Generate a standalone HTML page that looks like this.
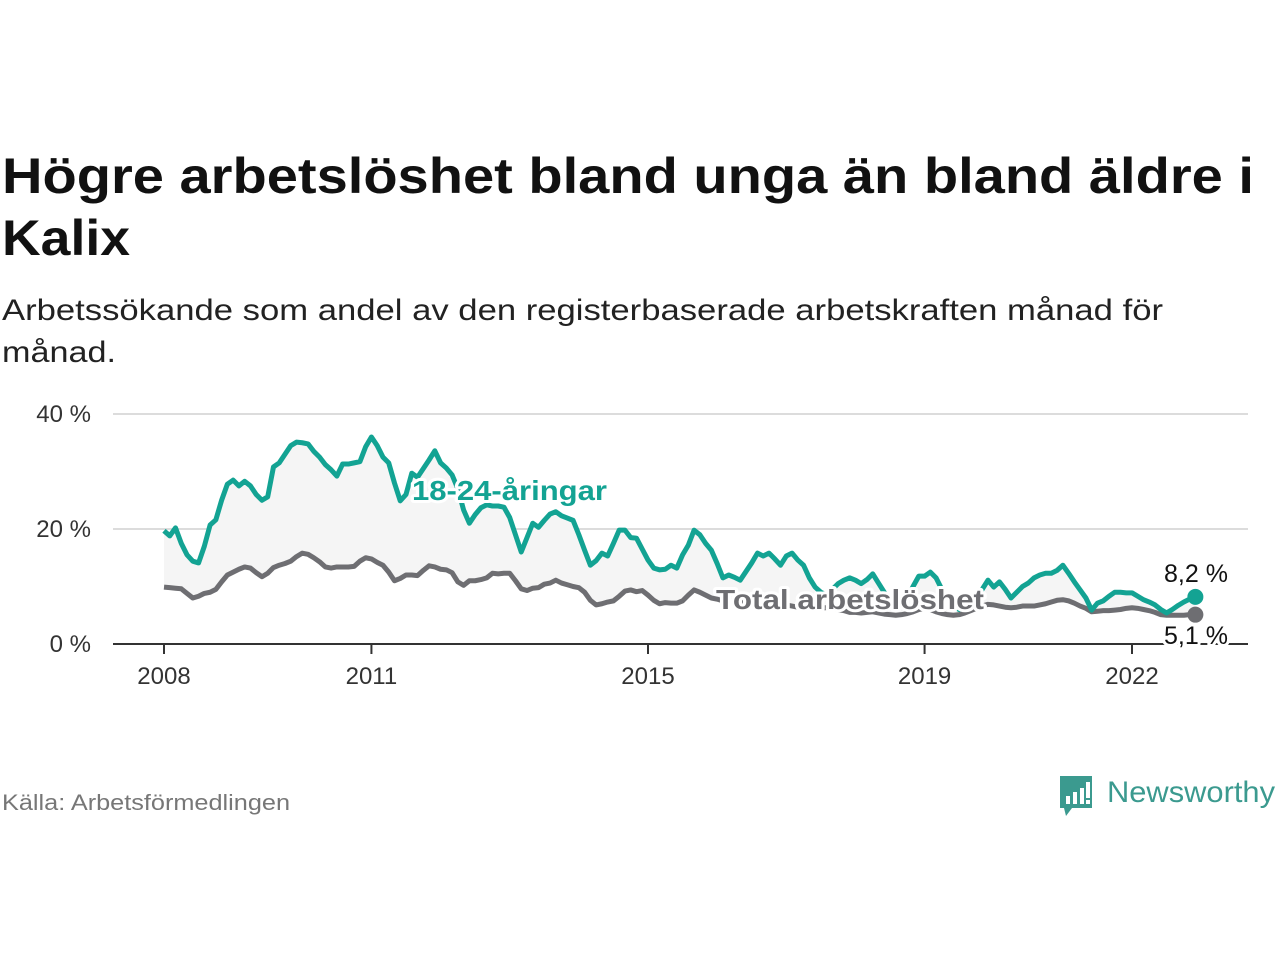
<!DOCTYPE html>
<html><head><meta charset="utf-8"><style>
body{margin:0;background:#fff;width:1280px;height:960px;overflow:hidden;font-family:"Liberation Sans","DejaVu Sans",sans-serif}
svg text{font-family:"Liberation Sans","DejaVu Sans",sans-serif}
</style></head><body>
<svg id="chart" width="1280" height="960" viewBox="0 0 1280 960">
<text x="2" y="193" font-size="50" font-weight="bold" fill="#111" textLength="1252" lengthAdjust="spacingAndGlyphs">Högre arbetslöshet bland unga än bland äldre i</text>
<text x="2" y="255" font-size="50" font-weight="bold" fill="#111" textLength="128" lengthAdjust="spacingAndGlyphs">Kalix</text>
<text x="2" y="320" font-size="30" fill="#222" textLength="1161" lengthAdjust="spacingAndGlyphs">Arbetssökande som andel av den registerbaserade arbetskraften månad för</text>
<text x="2" y="362" font-size="30" fill="#222" textLength="114" lengthAdjust="spacingAndGlyphs">månad.</text>
<g id="grid"></g>
<g id="plot"></g>
<text x="2" y="810" font-size="22" fill="#777" textLength="288" lengthAdjust="spacingAndGlyphs">Källa: Arbetsförmedlingen</text>
<g>
<path d="M1060 776 h32 v32 h-20 l-6 8 l-2 -8 h-4 z" fill="#3b9a8f"/>
<rect x="1066" y="796" width="4" height="8" fill="#fff"/><rect x="1073" y="792" width="4" height="12" fill="#fff"/><rect x="1080" y="788" width="4" height="16" fill="#fff"/><rect x="1086" y="782" width="4" height="16" fill="#fff"/><rect x="1086" y="800" width="4" height="4" fill="#fff"/>
<text x="1107" y="802" font-size="30" fill="#3b9a8f" textLength="168" lengthAdjust="spacingAndGlyphs">Newsworthy</text>
</g>
</svg>
<script>
const years=[2008,2011,2015,2019,2022];
const yTicks=[0,20,40];
const yTickLabels=["0 %","20 %","40 %"];
const youth=[19.7,18.8,20.2,17.5,15.5,14.4,14.1,17,20.7,21.6,25,27.8,
28.5,27.5,28.3,27.5,26,25,25.6,30.8,31.5,33,34.5,35.1,
35,34.8,33.5,32.5,31.2,30.3,29.2,31.3,31.3,31.5,31.7,34.3,
36,34.5,32.5,31.5,28,24.9,26,29.7,29,30.5,32,33.6,
31.5,30.6,29.4,27,23.3,21,22.5,23.7,24.2,24,24,23.8,
22,19,16,18.5,21,20.3,21.5,22.6,23,22.3,21.9,21.5,
19,16.3,13.7,14.5,15.8,15.3,17.5,19.8,19.8,18.5,18.4,16.5,
14.6,13.2,12.9,13,13.7,13.2,15.5,17.2,19.8,19,17.5,16.3,
14,11.5,12,11.6,11.1,12.6,14.1,15.8,15.3,15.8,14.8,13.7,
15.3,15.8,14.6,13.7,11.5,9.9,9,8.5,9.5,10.5,11.1,11.5,
11.1,10.5,11.2,12.2,10.6,9,7.5,6.5,6.8,8,10,11.8,
11.8,12.5,11.5,9.5,7.5,6.5,6,6.5,7.5,8.5,9.5,11.1,
9.9,10.8,9.5,8,9,10,10.6,11.5,12,12.3,12.3,12.8,
13.7,12.3,10.8,9.4,8,5.9,7.1,7.5,8.3,9,9,8.9,
8.9,8.3,7.7,7.3,6.8,6,5.4,6,6.7,7.3,7.8,8.2];
const total=[9.9,9.8,9.7,9.6,8.8,8,8.3,8.8,9,9.5,10.8,12,
12.5,13,13.4,13.2,12.4,11.7,12.3,13.3,13.7,14,14.4,15.2,
15.8,15.6,15,14.3,13.4,13.2,13.4,13.4,13.4,13.5,14.4,15,
14.8,14.2,13.7,12.5,11,11.4,12,12,11.9,12.8,13.6,13.4,
13,12.9,12.4,10.8,10.2,11,11,11.2,11.5,12.3,12.2,12.3,
12.3,11,9.6,9.3,9.7,9.8,10.4,10.6,11.1,10.6,10.3,10,
9.8,9,7.6,6.8,7,7.3,7.5,8.3,9.2,9.4,9.1,9.3,
8.5,7.6,7,7.2,7.1,7.1,7.5,8.5,9.4,9,8.5,8,
7.8,7.5,7.5,7.4,7.3,7.3,7.6,7.8,7.6,7.4,7.2,7,
6.8,6.6,6.4,6.3,6.2,6.2,6.3,6.3,6.2,6,5.8,5.5,
5.5,5.4,5.5,5.6,5.4,5.2,5.1,5.0,5.1,5.3,5.6,6,
6.2,6,5.6,5.3,5.1,5,5.1,5.4,5.8,6.2,6.6,6.9,
6.8,6.6,6.4,6.3,6.4,6.6,6.6,6.6,6.8,7,7.3,7.6,
7.7,7.5,7.1,6.6,6.2,5.6,5.7,5.8,5.8,5.9,6,6.2,
6.3,6.2,6,5.8,5.5,5.1,5,5,5,5,5.1,5.1];
const NS='http://www.w3.org/2000/svg';
const X=i=>164+i*(1132-164)/168;
const Y=v=>644-v*5.75;
function mk(tag,attrs,parent){const e=document.createElementNS(NS,tag);for(const k in attrs)e.setAttribute(k,attrs[k]);parent.appendChild(e);return e;}
const grid=document.getElementById('grid'),plot=document.getElementById('plot');
yTicks.forEach((t,i)=>{
 if(t>0){const l=mk('line',{x1:113,x2:1248,y1:Y(t),y2:Y(t),stroke:'#dcdcdc','stroke-width':2},grid);
 
 }
 const tx=mk('text',{x:91,y:Y(t)+8,'font-size':24,fill:'#333','text-anchor':'end'},grid);
 tx.textContent=yTickLabels[i];
 
 
});
let d='M'+youth.map((v,i)=>X(i)+','+Y(v)).join('L');
for(let i=total.length-1;i>=0;i--)d+='L'+X(i)+','+Y(total[i]);
const area=mk('path',{d:d+'Z',fill:'#f5f5f5'},plot);


const ax=mk('line',{x1:113,x2:1248,y1:644,y2:644,stroke:'#333','stroke-width':2},plot);


years.forEach(y=>{const x=X((y-2008)*12);
 const t=mk('line',{x1:x,x2:x,y1:644,y2:654,stroke:'#333','stroke-width':2},plot);
 
 
 const tx=mk('text',{x:x,y:684,'font-size':24,fill:'#333','text-anchor':'middle'},plot);
 tx.textContent=y;
 
 
});
function line(arr,col,name){const p=mk('path',{d:'M'+arr.map((v,i)=>X(i)+','+Y(v)).join('L'),fill:'none',stroke:col,'stroke-width':5,'stroke-linejoin':'round'},plot);
 
 
 const n=arr.length-1;
 const c=mk('circle',{cx:X(n),cy:Y(arr[n]),r:8,fill:col},plot);
 
 }
line(total,'#6e6e72','total-line');
line(youth,'#13a393','youth-line');
function lab(txt,x,y,col,sz,bold,name,anchor,len){const t=mk('text',{x:x,y:y,'font-size':sz,fill:col,'font-weight':bold?'bold':'normal',stroke:'#fff','stroke-width':6,'paint-order':'stroke','stroke-linejoin':'round','text-anchor':anchor||'start'},plot);
 if(len){t.setAttribute('textLength',len);t.setAttribute('lengthAdjust','spacingAndGlyphs');}
 t.textContent=txt;
 
 }
lab('18-24-åringar',412,500,'#13a393',28,true,'youth-series-label','start',195);
lab('Total arbetslöshet',716,609,'#6e6e72',28,true,'total-series-label','start',268);
const n=youth.length-1;
lab(String(youth[n]).replace('.',',')+' %',1196,582,'#111',25,false,'youth-end-value','middle');
lab(String(total[n]).replace('.',',')+' %',1196,644,'#111',25,false,'total-end-value','middle');
</script>
</body></html>
